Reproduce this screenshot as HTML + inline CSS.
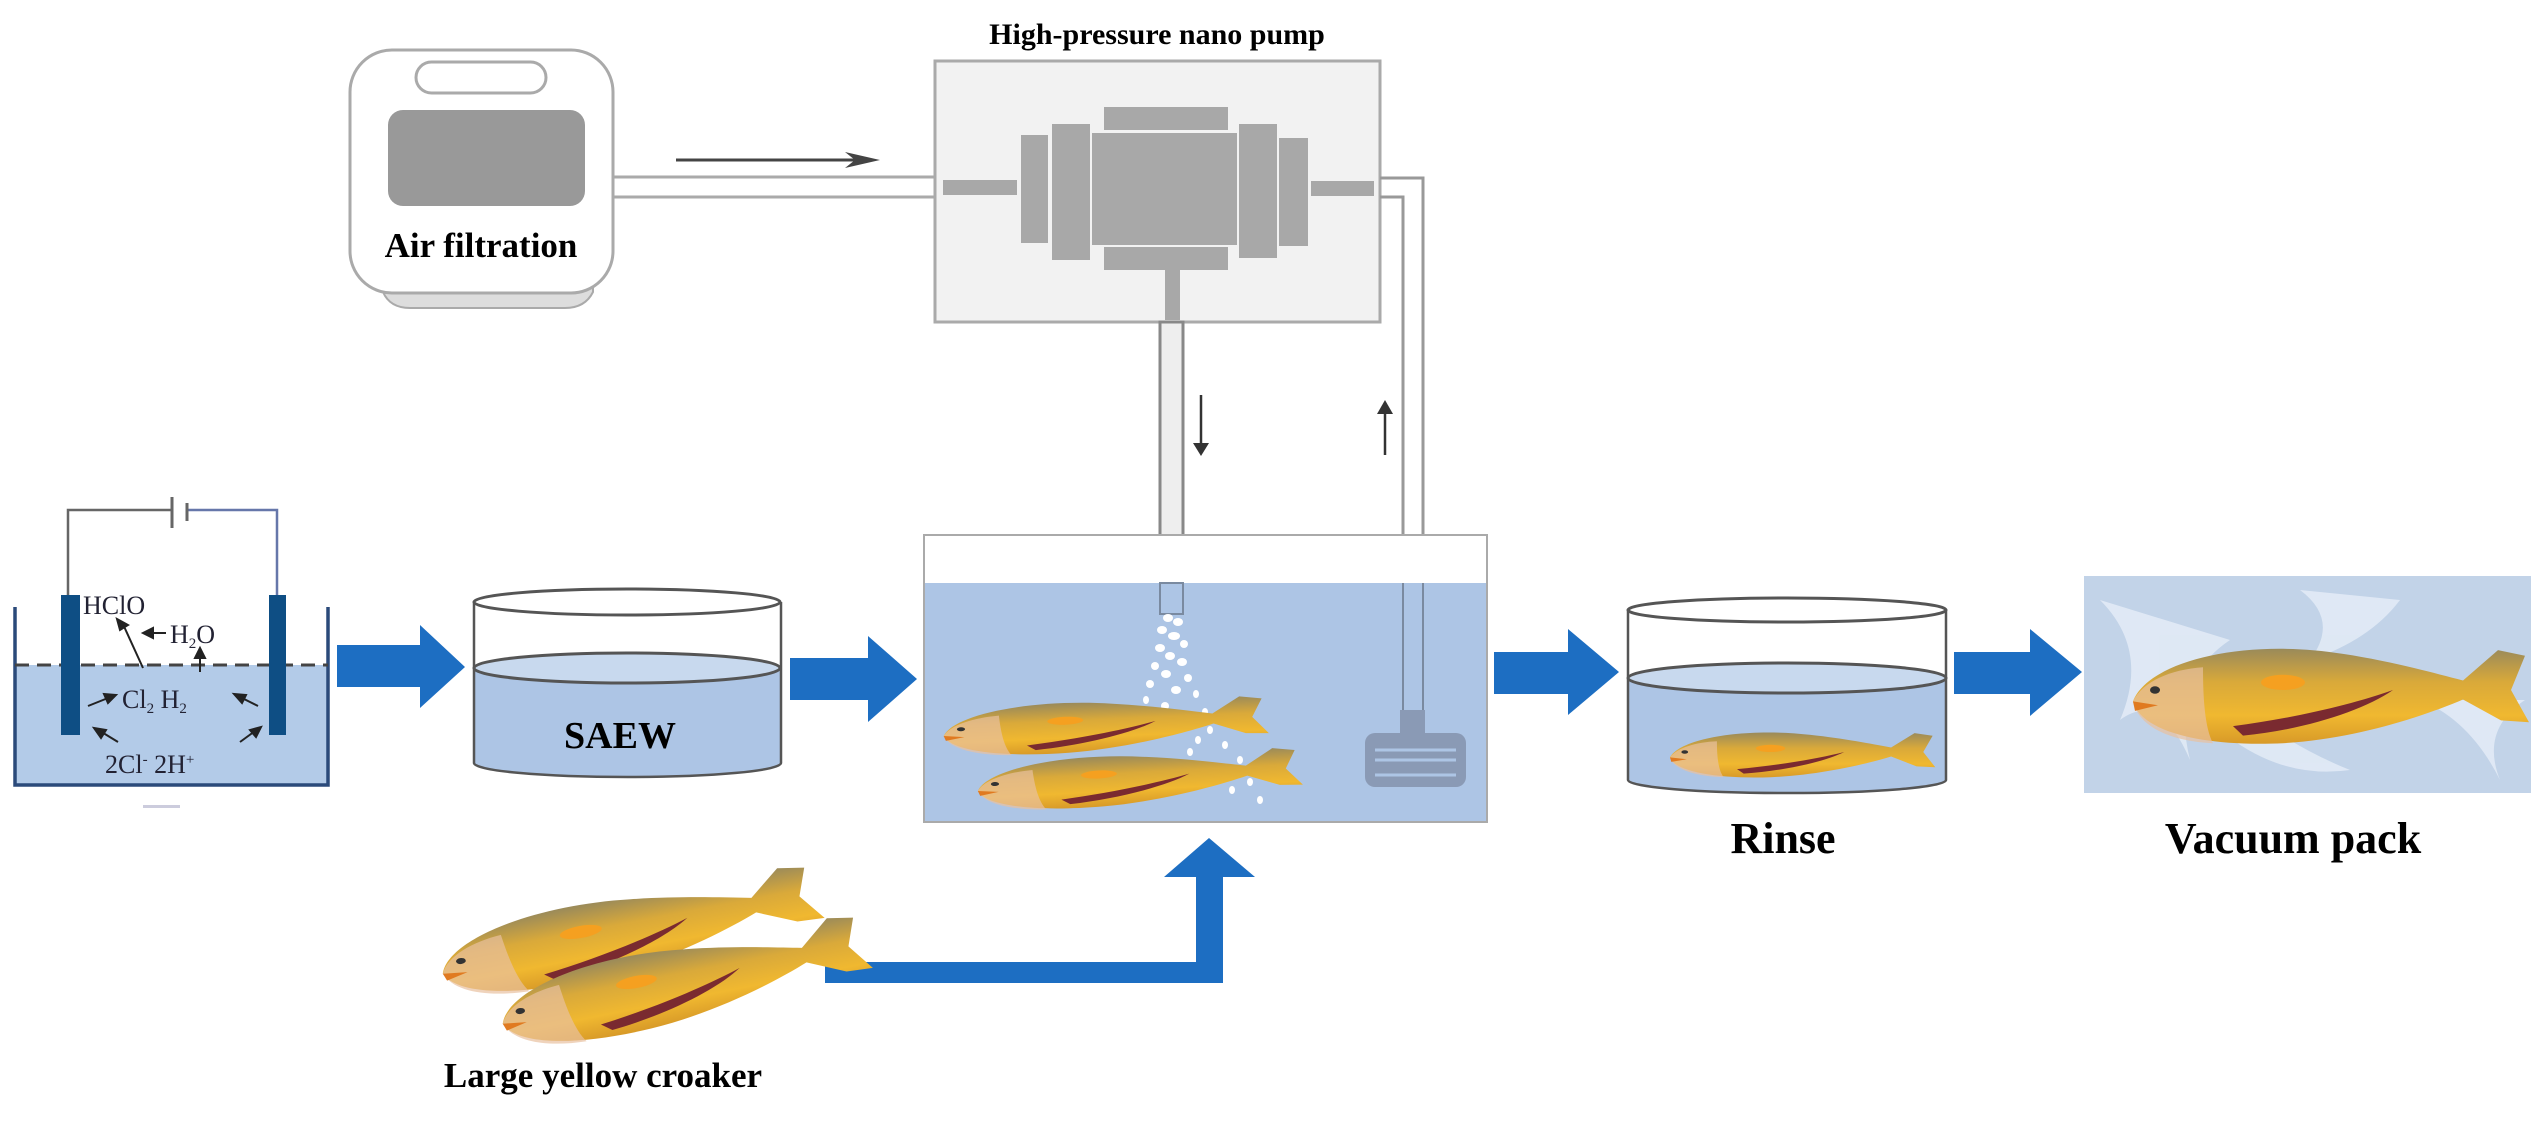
<!DOCTYPE html>
<html><head><meta charset="utf-8"><style>html,body{margin:0;padding:0;background:#fff}svg{display:block}</style></head>
<body>
<svg width="2547" height="1122" viewBox="0 0 2547 1122" xmlns="http://www.w3.org/2000/svg" font-family="Liberation Serif, serif">
<defs>
<linearGradient id="fg" x1="0" y1="0" x2="0" y2="1">
<stop offset="0" stop-color="#9a8a5a"/><stop offset="0.35" stop-color="#d9a93a"/><stop offset="0.7" stop-color="#f0b830"/><stop offset="1" stop-color="#d89a28"/>
</linearGradient>
<g id="fish">
<path d="M0,12 C15,-30 110,-55 210,-38 C260,-30 300,-18 330,-10 L365,-42 L392,-36 L378,0 L396,34 L368,32 L330,10 C290,28 220,52 150,56 C70,60 8,44 0,12 Z" fill="url(#fg)"/>
<path d="M0,12 C10,-10 40,-22 70,-24 C70,10 72,40 80,56 C40,54 6,40 0,12 Z" fill="#e8c0a0" opacity="0.7"/>
<path d="M100,38 C160,30 220,15 260,0 C230,22 170,42 110,48 Z" fill="#7a2a30"/>
<ellipse cx="150" cy="-8" rx="22" ry="8" fill="#f5a020"/>
<ellipse cx="22" cy="0" rx="5" ry="4" fill="#333"/>
<path d="M0,12 L25,16 L2,22 Z" fill="#e07a20"/>
</g>
</defs>

<text x="1157" y="44" font-size="30" font-weight="bold" text-anchor="middle">High-pressure nano pump</text>

<path d="M383,285 L593,285 L593,292 Q585,308 565,308 L410,308 Q390,308 383,292 Z" fill="#ddd" stroke="#aaa" stroke-width="2"/>
<rect x="350" y="50" width="263" height="243" rx="42" fill="#fff" stroke="#aaa" stroke-width="3"/>
<rect x="416" y="62" width="130" height="31" rx="15.5" fill="#fff" stroke="#aaa" stroke-width="3"/>
<rect x="388" y="110" width="197" height="96" rx="15" fill="#999"/>
<text x="481" y="257" font-size="35" font-weight="bold" text-anchor="middle">Air filtration</text>
<line x1="613" y1="177" x2="935" y2="177" stroke="#aaa" stroke-width="3"/>
<line x1="613" y1="197" x2="935" y2="197" stroke="#aaa" stroke-width="3"/>
<line x1="676" y1="160" x2="870" y2="160" stroke="#444" stroke-width="3"/>
<path d="M845,152 L880,160 L845,168 L855,160 Z" fill="#444"/>

<rect x="935" y="61" width="445" height="261" fill="#f2f2f2" stroke="#aaa" stroke-width="3"/>
<g fill="#a8a8a8">
<rect x="943" y="180" width="74" height="15"/>
<rect x="1021" y="135" width="27" height="108"/>
<rect x="1052" y="124" width="38" height="136"/>
<rect x="1092" y="133" width="145" height="112"/>
<rect x="1104" y="107" width="124" height="23"/>
<rect x="1104" y="247" width="124" height="23"/>
<rect x="1239" y="124" width="38" height="134"/>
<rect x="1279" y="138" width="29" height="108"/>
<rect x="1311" y="181" width="63" height="15"/>
<rect x="1165" y="270" width="15" height="50"/>
</g>
<path d="M1380,178 L1423,178 L1423,712" fill="none" stroke="#999" stroke-width="3"/>
<path d="M1380,197 L1403,197 L1403,712" fill="none" stroke="#999" stroke-width="3"/>
<rect x="1160" y="322" width="23" height="292" fill="#eee" stroke="#888" stroke-width="3"/>
<line x1="1201" y1="395" x2="1201" y2="452" stroke="#333" stroke-width="2.5"/>
<path d="M1193,443 L1201,456 L1209,443 Z" fill="#333"/>
<line x1="1385" y1="405" x2="1385" y2="455" stroke="#333" stroke-width="2.5"/>
<path d="M1377,414 L1385,400 L1393,414 Z" fill="#333"/>

<rect x="924" y="535" width="563" height="287" fill="#fff" stroke="#aaa" stroke-width="2"/>
<rect x="925" y="583" width="561" height="238" fill="#adc5e5"/>
<rect x="1160" y="583" width="23" height="31" fill="none" stroke="#7a8aa0" stroke-width="2"/>
<line x1="1403" y1="583" x2="1403" y2="712" stroke="#7a8aa0" stroke-width="2"/>
<line x1="1423" y1="583" x2="1423" y2="712" stroke="#7a8aa0" stroke-width="2"/>
<rect x="1400" y="710" width="25" height="24" fill="#8a9ab5"/>
<rect x="1365" y="733" width="101" height="54" rx="10" fill="#8a9ab5"/>
<g stroke="#adc5e5" stroke-width="3"><line x1="1375" y1="750" x2="1456" y2="750"/><line x1="1375" y1="760" x2="1456" y2="760"/><line x1="1375" y1="775" x2="1456" y2="775"/></g>
<g fill="#fff">
<ellipse cx="1168" cy="618" rx="5" ry="4"/><ellipse cx="1178" cy="622" rx="5" ry="4"/><ellipse cx="1162" cy="630" rx="5" ry="4"/><ellipse cx="1174" cy="636" rx="6" ry="4"/><ellipse cx="1184" cy="644" rx="4" ry="4"/>
<ellipse cx="1160" cy="648" rx="5" ry="4"/><ellipse cx="1170" cy="656" rx="5" ry="4"/><ellipse cx="1182" cy="662" rx="5" ry="4"/><ellipse cx="1155" cy="666" rx="4" ry="4"/><ellipse cx="1166" cy="674" rx="5" ry="4"/>
<ellipse cx="1188" cy="678" rx="4" ry="4"/><ellipse cx="1150" cy="684" rx="4" ry="4"/><ellipse cx="1176" cy="690" rx="5" ry="4"/><ellipse cx="1196" cy="694" rx="3" ry="4"/><ellipse cx="1146" cy="700" rx="3" ry="4"/>
<ellipse cx="1165" cy="706" rx="4" ry="4"/><ellipse cx="1205" cy="712" rx="3" ry="4"/><ellipse cx="1140" cy="716" rx="3" ry="4"/><ellipse cx="1185" cy="718" rx="3" ry="4"/><ellipse cx="1160" cy="728" rx="3" ry="4"/>
<ellipse cx="1210" cy="730" rx="3" ry="4"/><ellipse cx="1225" cy="745" rx="3" ry="4"/><ellipse cx="1198" cy="740" rx="3" ry="4"/><ellipse cx="1240" cy="760" rx="3" ry="4"/><ellipse cx="1215" cy="770" rx="3" ry="4"/>
<ellipse cx="1250" cy="782" rx="3" ry="4"/><ellipse cx="1232" cy="790" rx="3" ry="4"/><ellipse cx="1190" cy="752" rx="3" ry="4"/><ellipse cx="1130" cy="732" rx="3" ry="4"/><ellipse cx="1260" cy="800" rx="3" ry="4"/>
</g>
<use href="#fish" transform="translate(943,730) scale(0.82,0.5) rotate(-4)"/>
<use href="#fish" transform="translate(977,785) scale(0.82,0.5) rotate(-5)"/>

<rect x="15" y="665" width="313" height="120" fill="#b3cbe8"/>
<path d="M15,607 L15,785 L328,785 L328,607" fill="none" stroke="#2b4a7a" stroke-width="3.5"/>
<line x1="15" y1="665" x2="328" y2="665" stroke="#444" stroke-width="3" stroke-dasharray="14,8"/>
<rect x="61" y="595" width="19" height="140" fill="#0e4e84"/>
<rect x="269" y="595" width="17" height="140" fill="#0e4e84"/>
<path d="M68,595 L68,510 L172,510" fill="none" stroke="#666" stroke-width="2.5"/>
<path d="M187,510 L277,510 L277,595" fill="none" stroke="#6677aa" stroke-width="2.5"/>
<line x1="172" y1="497" x2="172" y2="528" stroke="#666" stroke-width="3"/>
<line x1="187" y1="503" x2="187" y2="521" stroke="#666" stroke-width="3"/>
<g font-size="26" fill="#223">
<text x="83" y="614">HClO</text>
<text x="170" y="643">H<tspan font-size="15" dy="5">2</tspan><tspan dy="-5">O</tspan></text>
<text x="122" y="708">Cl<tspan font-size="15" dy="5">2</tspan><tspan dy="-5"> H</tspan><tspan font-size="15" dy="5">2</tspan></text>
<text x="105" y="773">2Cl<tspan font-size="15" dy="-9">-</tspan><tspan dy="9">  2H</tspan><tspan font-size="15" dy="-9">+</tspan></text>
</g>
<g stroke="#222" stroke-width="2" fill="#222">
<line x1="143" y1="668" x2="122" y2="622"/><path d="M117,619 L128,625 L120,630 Z"/>
<line x1="166" y1="633" x2="150" y2="633"/><path d="M143,633 L153,628 L153,638 Z"/>
<line x1="200" y1="672" x2="200" y2="655"/><path d="M200,648 L195,658 L205,658 Z"/>
<line x1="88" y1="706" x2="108" y2="698"/><path d="M116,695 L104,694 L108,703 Z"/>
<line x1="258" y1="706" x2="240" y2="697"/><path d="M234,694 L246,695 L242,703 Z"/>
<line x1="118" y1="742" x2="100" y2="731"/><path d="M94,728 L106,730 L101,738 Z"/>
<line x1="240" y1="742" x2="255" y2="731"/><path d="M261,727 L256,737 L250,730 Z"/>
</g>
<rect x="143" y="805" width="37" height="3" fill="#ccd"/>

<g fill="#1d6ec2">
<path d="M337,645 L420,645 L420,625 L465,667 L420,708 L420,687 L337,687 Z"/>
<path d="M790,658 L868,658 L868,636 L917,679 L868,722 L868,700 L790,700 Z"/>
<path d="M1494,652 L1568,652 L1568,629 L1619,672 L1568,715 L1568,694 L1494,694 Z"/>
<path d="M1954,652 L2030,652 L2030,629 L2082,672 L2030,716 L2030,694 L1954,694 Z"/>
<path d="M825,962 L1196,962 L1196,877 L1164,877 L1209,838 L1255,877 L1223,877 L1223,983 L825,983 Z"/>
</g>

<path d="M474,668 L474,763 A153,14 0 0 0 781,763 L781,668 Z" fill="#adc5e5"/>
<ellipse cx="627" cy="668" rx="153" ry="15" fill="#c8d9ee" stroke="#555" stroke-width="3"/>
<ellipse cx="627" cy="602" rx="153" ry="13" fill="none" stroke="#555" stroke-width="3"/>
<path d="M474,602 L474,763 A153,14 0 0 0 781,763 L781,602" fill="none" stroke="#555" stroke-width="2.5"/>
<text x="620" y="748" font-size="38" font-weight="bold" text-anchor="middle">SAEW</text>

<path d="M1628,678 L1628,780 A159,13 0 0 0 1946,780 L1946,678 Z" fill="#adc5e5"/>
<ellipse cx="1787" cy="678" rx="159" ry="15" fill="#c8d9ee" stroke="#555" stroke-width="3"/>
<ellipse cx="1787" cy="610" rx="159" ry="12" fill="none" stroke="#555" stroke-width="3"/>
<path d="M1628,610 L1628,780 A159,13 0 0 0 1946,780 L1946,610" fill="none" stroke="#555" stroke-width="2.5"/>
<use href="#fish" transform="translate(1670,752) scale(0.67,0.45)"/>
<text x="1783" y="853" font-size="44" font-weight="bold" text-anchor="middle">Rinse</text>

<rect x="2084" y="576" width="447" height="217" fill="#c2d3e8"/>
<g fill="#e6eef7" opacity="0.8">
<path d="M2100,600 Q2150,650 2120,720 Q2160,690 2190,760 Q2170,680 2230,640 Z"/>
<path d="M2300,590 Q2340,620 2310,660 Q2370,640 2400,600 Z"/>
<path d="M2420,700 Q2470,720 2500,780 Q2480,730 2525,700 Z"/>
<path d="M2220,730 Q2280,780 2350,770 Q2300,750 2260,720 Z"/>
</g>
<use href="#fish" transform="translate(2133,690) scale(1.0,0.95)"/>
<text x="2293" y="853" font-size="44" font-weight="bold" text-anchor="middle">Vacuum pack</text>

<use href="#fish" transform="translate(440,965) scale(0.98,0.75) rotate(-14)"/>
<use href="#fish" transform="translate(500,1015) scale(0.95,0.75) rotate(-14)"/>
<text x="603" y="1087" font-size="35" font-weight="bold" text-anchor="middle">Large yellow croaker</text>
</svg>
</body></html>
